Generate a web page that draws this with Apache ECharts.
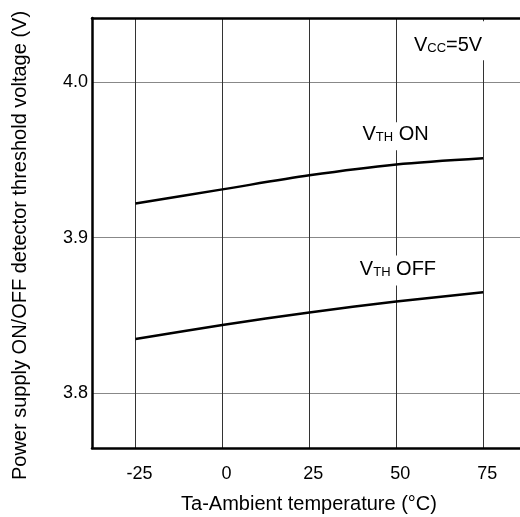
<!DOCTYPE html>
<html>
<head>
<meta charset="utf-8">
<script src="https://cdn.jsdelivr.net/npm/echarts@6/dist/echarts.min.js"></script>
<style>html,body{margin:0;padding:0;background:#fff}#c{width:520px;height:517px}</style>
</head>
<body>
<div id="c"></div>
<script>
// Data
var temps = [-25, 0, 25, 50, 75];
var vthOn = [3.922, 3.931, 3.940, 3.947, 3.951];
var vthOff = [3.835, 3.844, 3.852, 3.859, 3.865];
var xTicks = [-25, 0, 25, 50, 75];
var yTicks = [3.8, 3.9, 4.0];

var FONT = 'Liberation Sans, Arial, Helvetica, sans-serif';
var X_MIN = -37.5, X_MAX = 85.6, Y_MIN = 3.765, Y_MAX = 4.041;
function pairs(xs, ys) { return xs.map(function (x, i) { return [x, ys[i]]; }); }
function note(coord, text, pad) {
  return {
    coord: coord, symbol: 'rect', symbolSize: 0,
    label: {
      show: true, position: 'inside', formatter: text,
      backgroundColor: '#fff', padding: pad,
      rich: {
        a: { fontFamily: FONT, fontSize: 20, lineHeight: 20, color: '#000', verticalAlign: 'bottom' },
        b: { fontFamily: FONT, fontSize: 13, lineHeight: 13, color: '#000', verticalAlign: 'bottom' }
      }
    }
  };
}

var chart = echarts.init(document.getElementById('c'), null, { renderer: 'canvas' });
chart.setOption({
  animation: false,
  backgroundColor: '#fff',
  grid: { left: 92, top: 18, bottom: 69, right: 0, show: false, outerBoundsMode: 'none', containLabel: false },
  xAxis: [{
    type: 'value', min: X_MIN, max: X_MAX,
    name: 'Ta-Ambient temperature (°C)', nameLocation: 'middle', nameGap: 46,
    nameTextStyle: { fontFamily: FONT, fontSize: 20, color: '#000', padding: [0, 0, 0, 6] },
    axisLine: { show: true, onZero: false, lineStyle: { color: '#000', width: 2.5 } },
    axisTick: { show: false, customValues: xTicks },
    axisLabel: { customValues: xTicks, fontFamily: FONT, fontSize: 18, color: '#000', margin: 17, padding: [0, 0, 0, 8] },
    splitLine: { show: true, lineStyle: { color: '#333', width: 1 } }
  }, {
    type: 'value', position: 'top', min: X_MIN, max: X_MAX,
    axisLine: { show: true, onZero: false, lineStyle: { color: '#000', width: 2.5 } },
    axisTick: { show: false }, axisLabel: { show: false }, splitLine: { show: false }
  }],
  yAxis: {
    type: 'value', min: Y_MIN, max: Y_MAX,
    name: 'Power supply ON/OFF detector threshold voltage (V)', nameLocation: 'middle', nameGap: 62,
    nameTextStyle: { fontFamily: FONT, fontSize: 20, color: '#000', padding: [0, 25, 0, 0] },
    axisLine: { show: true, onZero: false, lineStyle: { color: '#000', width: 2.5 } },
    axisTick: { show: false, customValues: yTicks },
    axisLabel: { customValues: yTicks, fontFamily: FONT, fontSize: 18, color: '#000', margin: 4,
      formatter: function (v) { return v.toFixed(1); } },
    splitLine: { show: true, lineStyle: { color: '#888', width: 1 } }
  },
  series: [
    {
      type: 'line', name: 'VTH ON', data: pairs(temps, vthOn), smooth: 0.3, symbol: 'none',
      lineStyle: { color: '#000', width: 2.5 }, z: 3,
      markPoint: { silent: true, data: [
        note([49.8, 3.9651], '{a|V}{b|TH}{a| ON}', [2, 2, 6, 2]),
        note([64.9, 4.0264], '{a|V}{b|CC}{a|=5V}', [14, 2, 5, 2])
      ] }
    },
    {
      type: 'line', name: 'VTH OFF', data: pairs(temps, vthOff), smooth: 0.3, symbol: 'none',
      lineStyle: { color: '#000', width: 2.5 }, z: 3,
      markPoint: { silent: true, data: [
        note([50.5, 3.879], '{a|V}{b|TH}{a| OFF}', [4, 2, 6, 2])
      ] }
    }
  ]
});
</script>
</body>
</html>
